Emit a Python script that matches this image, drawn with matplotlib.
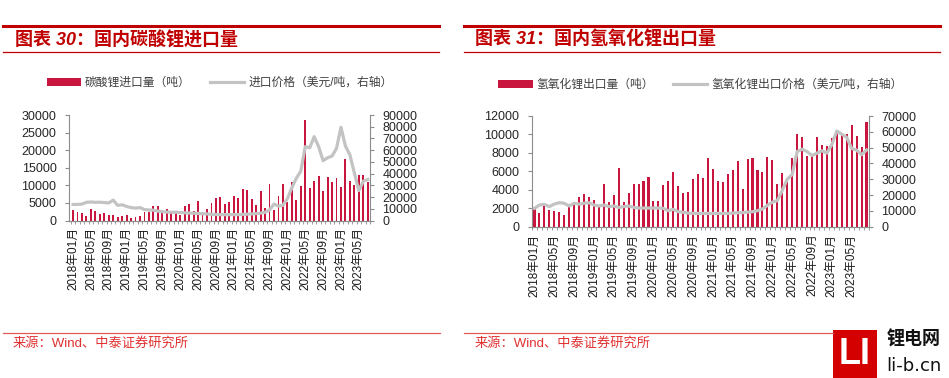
import numpy as np
import pandas as pd
import matplotlib
matplotlib.use("Agg")
import matplotlib.pyplot as plt
from matplotlib.lines import Line2D
from matplotlib.patches import Rectangle, Patch

plt.rcParams['font.family'] = ['Liberation Sans', 'Noto Sans CJK SC']

# ---- data (tons / USD per ton) ----
months_l = [d.strftime('%Y年%m月') for d in pd.date_range('2018-01-01', '2023-07-01', freq='MS')]
months_r = [d.strftime('%Y年%m月') for d in pd.date_range('2018-01-01', '2023-08-01', freq='MS')]

li2co3_import = [3000, 2500, 2100, 1300, 3200, 2600, 1800, 2000, 1600, 1700, 900, 1400,
                 1700, 800, 900, 1400, 2500, 2500, 4000, 4100, 2200, 3200, 2000, 2600,
                 1700, 4000, 4700, 2600, 5500, 1500, 3200, 5100, 6500, 6700, 4600, 5400,
                 7000, 6400, 8900, 8600, 6000, 4500, 8400, 3500, 10400, 3000, 7100, 10500,
                 5200, 11000, 5800, 9700, 28500, 9300, 11300, 12600, 8400, 12400, 10900, 12100,
                 9600, 17500, 11300, 10100, 12800, 13000, 10900]
li2co3_price = [13700, 13700, 14000, 15500, 15800, 15500, 15600, 15300, 15000, 17400, 12900, 13400,
                12000, 11000, 10600, 11000, 9300, 9000, 8800, 8000, 7500, 7200, 7000, 7000,
                6800, 6600, 6400, 6200, 6000, 5800, 5600, 5300, 5100, 5000, 5000, 5000,
                5000, 5100, 5200, 5400, 5600, 5900, 6300, 7000, 9000, 14000, 12300, 13000,
                18500, 28000, 36000, 42000, 63000, 62000, 71500, 63000, 51000, 53500, 55000, 61500,
                79500, 63500, 56000, 40500, 25500, 33500, 35000]

lioh_export = [2100, 1450, 2600, 1800, 1700, 1600, 1300, 2100, 2400, 3200, 3500, 3200,
               2900, 2300, 4600, 2700, 3400, 6400, 2700, 3700, 4600, 4600, 5000, 5400,
               2800, 2800, 4500, 5000, 5900, 4400, 3700, 3800, 5200, 5700, 5300, 7400,
               6300, 4900, 4800, 5700, 6100, 7100, 4100, 7300, 7500, 6200, 5900, 7600,
               7200, 4600, 5800, 5300, 7400, 10000, 9700, 7700, 7800, 9700, 8900, 8800,
               9600, 10300, 10100, 10100, 11000, 9800, 8600, 11300]
lioh_price = [11600, 13700, 14100, 12700, 14300, 15200, 14800, 13100, 14800, 14300, 14800, 15200,
              13700, 13100, 13700, 12700, 13100, 12200, 12700, 13100, 12200, 11800, 11800, 11800,
              11800, 11800, 11600, 10100, 11000, 9500, 9100, 8600, 8400, 8400, 8400, 8400,
              8400, 8400, 8400, 8400, 8600, 8800, 8900, 9200, 9500, 10100, 11200, 13500,
              15500, 16500, 23000, 30000, 33000, 47500, 49000, 47500, 45000, 46500, 48000, 46500,
              52000, 60500, 58500, 56500, 49500, 48500, 45500, 48500]

RED = '#C9163E'
GRAY = '#C3C3C3'
TITLE_RED = '#C00000'
W, H = 949, 378


def fx(px):
    return px / W


def fy(py):
    return 1 - py / H


def panel(fig, box, labels, bars, line, y1max, y1step, y2max, y2step, xlim, leg_names, leg_y):
    left, right, top, bottom = box
    ax = fig.add_axes([fx(left), fy(bottom), (right - left) / W, (bottom - top) / H])
    x = np.arange(len(bars))
    ax.bar(x, bars, width=0.42, color=RED, zorder=2)
    ax.set_ylim(0, y1max)
    ax.set_yticks(np.arange(0, y1max + 1, y1step))
    ax.set_xlim(*xlim)

    ax2 = ax.twinx()
    ax2.plot(x, line, color=GRAY, lw=2.3, solid_joinstyle='round', zorder=3)
    ax2.set_ylim(0, y2max)
    ax2.set_yticks(np.arange(0, y2max + 1, y2step))
    ax2.set_xlim(*xlim)

    for a in (ax, ax2):
        a.spines['top'].set_visible(False)
        for s in a.spines.values():
            s.set_color('#8C8C8C')
            s.set_linewidth(0.8)
        a.tick_params(axis='y', length=3, width=0.8, color='#8C8C8C',
                      labelsize=9, labelcolor='#262626', pad=6)
    ax.spines['right'].set_visible(False)
    ax2.spines['left'].set_visible(False)

    # month labels every 4 months, small ticks on category borders
    ax.set_xticks(x[::4])
    ax.set_xticklabels([labels[i] for i in x[::4]], rotation=90, fontsize=8.5, color='#1A1A1A')
    ax.tick_params(axis='x', length=0, pad=5)
    ax.set_xticks(np.arange(-0.5, len(bars), 1), minor=True)
    ax.tick_params(axis='x', which='minor', length=2.5, width=0.6, color='#8C8C8C')

    handles = [Patch(facecolor=RED, edgecolor='none'),
               Line2D([0], [0], color=GRAY, lw=2.3)]
    ax.legend(handles, leg_names, loc='center', ncol=2, frameon=False,
              bbox_to_anchor=(0.5, 1 + (top - leg_y) / (bottom - top)),
              fontsize=8.5, labelcolor='#404040', handlelength=2.9,
              handleheight=0.6, handletextpad=0.35, columnspacing=1.6)
    return ax


fig = plt.figure(figsize=(9.49, 3.78), dpi=100)

# ---- headers ----
for x0, x1, tx, title in [(3, 439, 15, '图表 30：国内碳酸锂进口量'),
                          (464, 940, 475, '图表 31：国内氢氧化锂出口量')]:
    fig.add_artist(Line2D([fx(x0), fx(x1)], [fy(26), fy(26)], color=TITLE_RED, lw=2.2))
    fig.add_artist(Line2D([fx(x0), fx(x1)], [fy(52), fy(52)], color=TITLE_RED, lw=0.9))
    fig.text(fx(tx), fy(40), title, color=TITLE_RED, fontsize=13, weight='bold',
             style='italic', va='center', ha='left')

# ---- charts ----
panel(fig, (69, 370, 115, 220.5), months_l, li2co3_import, li2co3_price,
      30000, 5000, 90000, 10000, (-0.9, 66.4),
      ['碳酸锂进口量（吨）', '进口价格（美元/吨，右轴）'], 83)
panel(fig, (532, 869, 116, 226.7), months_r, lioh_export, lioh_price,
      12000, 2000, 70000, 10000, (-0.4, 67.4),
      ['氢氧化锂出口量（吨）', '氢氧化锂出口价格（美元/吨，右轴）'], 85)

# ---- footers ----
fig.add_artist(Line2D([fx(3), fx(440)], [fy(333), fy(333)], color='#E05A5A', lw=0.9))
fig.add_artist(Line2D([fx(464), fx(833)], [fy(333), fy(333)], color='#E05A5A', lw=0.9))
for tx in (13, 475):
    fig.text(fx(tx), fy(343), '来源：Wind、中泰证券研究所', color='#E03030',
             fontsize=9.5, va='center', ha='left')

# ---- watermark logo ----
fig.add_artist(Rectangle((fx(833), fy(378)), (877 - 833) / W, (378 - 330) / H,
                         transform=fig.transFigure, facecolor='#D40000', edgecolor='none'))
fig.text(fx(855), fy(354), 'LI', color='white', fontsize=26, weight='bold',
         ha='center', va='center')
fig.text(fx(914), fy(340), '锂电网', color='#111111', fontsize=13, weight='bold',
         ha='center', va='center')
fig.text(fx(914), fy(366), 'li-b.cn', color='#111111', fontsize=13,
         family=['DejaVu Sans'], ha='center', va='center')

fig.savefig('out.png', dpi=100)
plt.close(fig)
